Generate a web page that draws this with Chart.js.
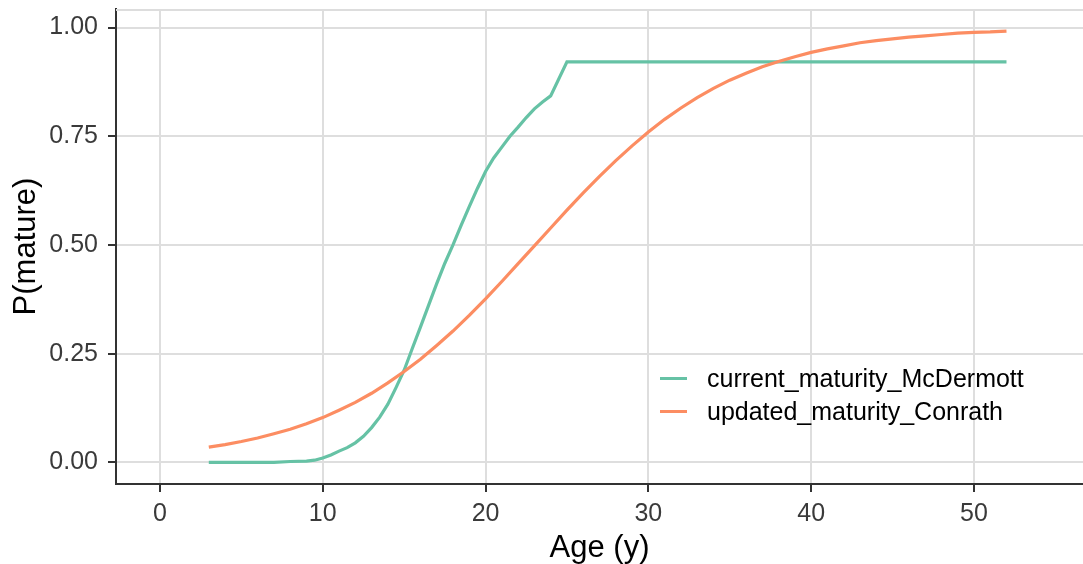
<!DOCTYPE html>
<html>
<head>
<meta charset="utf-8">
<script src="https://cdn.jsdelivr.net/npm/chart.js@4/dist/chart.umd.min.js"></script>
<style>
  html, body { margin: 0; padding: 0; background: #ffffff; }
  #wrap { position: relative; width: 1083px; height: 564px; }
  #legend { position: absolute; left: 660px; top: 362px; font-family: "Liberation Sans", Arial, sans-serif; font-size: 25px; color: #000; }
  #legend .row { display: flex; align-items: center; height: 33px; }
  #legend .swatch { width: 27px; height: 3px; margin-right: 20px; }
</style>
</head>
<body>
<div id="wrap">
  <canvas id="c" width="1083" height="564"></canvas>
  <div id="legend"></div>
</div>
<script>
// Maturity-at-age curves
const seriesNames = ['current_maturity_McDermott', 'updated_maturity_Conrath'];
const seriesColors = ['#66C2A5', '#FC8D62'];

const mcdermottAge = [3, 4, 5, 6, 7, 8, 9, 9.5, 10, 10.5, 11, 11.5, 12, 12.5, 13, 13.5, 14, 14.5, 15, 15.5,
  16, 16.5, 17, 17.5, 18, 18.5, 19, 19.5, 20, 20.5, 21, 21.5, 22, 22.5, 23, 23.5, 24, 25, 30, 35, 40, 45, 50, 52];
const mcdermottP = [0.000, 0.000, 0.000, 0.000, 0.000, 0.002, 0.003, 0.005, 0.010, 0.017, 0.026, 0.034, 0.045, 0.060, 0.080, 0.104, 0.134, 0.172, 0.212, 0.262,
  0.311, 0.361, 0.411, 0.458, 0.500, 0.545, 0.588, 0.630, 0.669, 0.700, 0.725, 0.750, 0.771, 0.793, 0.813, 0.829, 0.843, 0.921, 0.921, 0.921, 0.921, 0.921, 0.921, 0.921];

const conrathAge = [3, 4, 5, 6, 7, 8, 9, 10, 11, 12, 13, 14, 15, 16, 17, 18, 19, 20, 21, 22, 23, 24, 25, 26, 27,
  28, 29, 30, 31, 32, 33, 34, 35, 36, 37, 38, 39, 40, 41, 42, 43, 44, 45, 46, 47, 48, 49, 50, 51, 52];
const conrathP = [0.035, 0.041, 0.048, 0.056, 0.066, 0.076, 0.089, 0.103, 0.120, 0.138, 0.159, 0.183, 0.209, 0.237, 0.269, 0.302, 0.338, 0.376, 0.416, 0.457, 0.498, 0.539, 0.580, 0.620, 0.658,
  0.694, 0.728, 0.760, 0.789, 0.815, 0.839, 0.860, 0.879, 0.895, 0.910, 0.922, 0.933, 0.943, 0.951, 0.958, 0.965, 0.970, 0.974, 0.978, 0.981, 0.984, 0.987, 0.989, 0.990, 0.992];

const xTicks = [0, 10, 20, 30, 40, 50];
const yTicks = [0, 0.25, 0.5, 0.75, 1];

const pairs = (xs, ys) => xs.map((x, i) => ({ x: x, y: ys[i] }));

const FONT = '"Liberation Sans", Arial, sans-serif';

// thin grey frame line along the top of the panel
const panelTop = {
  id: 'panelTop',
  beforeDatasetsDraw(chart) {
    const { ctx, chartArea } = chart;
    ctx.save();
    ctx.strokeStyle = '#DDDDDD';
    ctx.lineWidth = 2;
    ctx.beginPath();
    ctx.moveTo(chartArea.left, chartArea.top + 1);
    ctx.lineTo(chartArea.right, chartArea.top + 1);
    ctx.stroke();
    ctx.restore();
  }
};

const chart = new Chart(document.getElementById('c'), {
  type: 'line',
  data: {
    datasets: [
      { label: seriesNames[0], data: pairs(mcdermottAge, mcdermottP), borderColor: seriesColors[0], backgroundColor: seriesColors[0], borderWidth: 3.2, pointRadius: 0, tension: 0, order: 1 },
      { label: seriesNames[1], data: pairs(conrathAge, conrathP), borderColor: seriesColors[1], backgroundColor: seriesColors[1], borderWidth: 3.2, pointRadius: 0, tension: 0, order: 0 }
    ]
  },
  options: {
    responsive: false,
    animation: false,
    layout: { padding: { top: 9, right: 0, bottom: 0, left: 0 } },
    plugins: { legend: { display: false }, tooltip: { enabled: false } },
    scales: {
      x: {
        type: 'linear',
        min: -2.7,
        max: 56.7,
        afterBuildTicks: (s) => { s.ticks = xTicks.map(v => ({ value: v })); },
        afterFit: (s) => { s.height = 80; s.paddingLeft = 0; s.paddingRight = 0; },
        ticks: { color: '#3A3A3A', font: { family: FONT, size: 25 }, padding: 7, maxRotation: 0, autoSkip: false },
        grid: { color: '#DEDEDE', lineWidth: 2, tickColor: '#333333', tickWidth: 2, tickLength: 8 },
        border: { color: '#333333', width: 2 },
        title: { display: true, text: 'Age (y)', color: '#000', font: { family: FONT, size: 31, lineHeight: 1 }, padding: { top: 0, bottom: 0 } }
      },
      y: {
        type: 'linear',
        min: -0.0497,
        max: 1.0427,
        afterBuildTicks: (s) => { s.ticks = yTicks.map(v => ({ value: v })); },
        afterFit: (s) => { s.width = 116; s.paddingTop = 0; s.paddingBottom = 0; },
        ticks: { color: '#3A3A3A', font: { family: FONT, size: 25 }, padding: 10, callback: (v) => Number(v).toFixed(2) },
        grid: { color: '#DEDEDE', lineWidth: 2, tickColor: '#333333', tickWidth: 2, tickLength: 8 },
        border: { color: '#333333', width: 2 },
        title: { display: true, text: 'P(mature)', color: '#000', font: { family: FONT, size: 31, lineHeight: 1 }, padding: { top: 11, bottom: 0 } }
      }
    }
  },
  plugins: [panelTop]
});

// legend rows built from the datasets
const legendEl = document.getElementById('legend');
chart.data.datasets.forEach(ds => {
  const row = document.createElement('div');
  row.className = 'row';
  const sw = document.createElement('span');
  sw.className = 'swatch';
  sw.style.background = ds.borderColor;
  const txt = document.createElement('span');
  txt.textContent = ds.label;
  row.appendChild(sw);
  row.appendChild(txt);
  legendEl.appendChild(row);
});
</script>
</body>
</html>
